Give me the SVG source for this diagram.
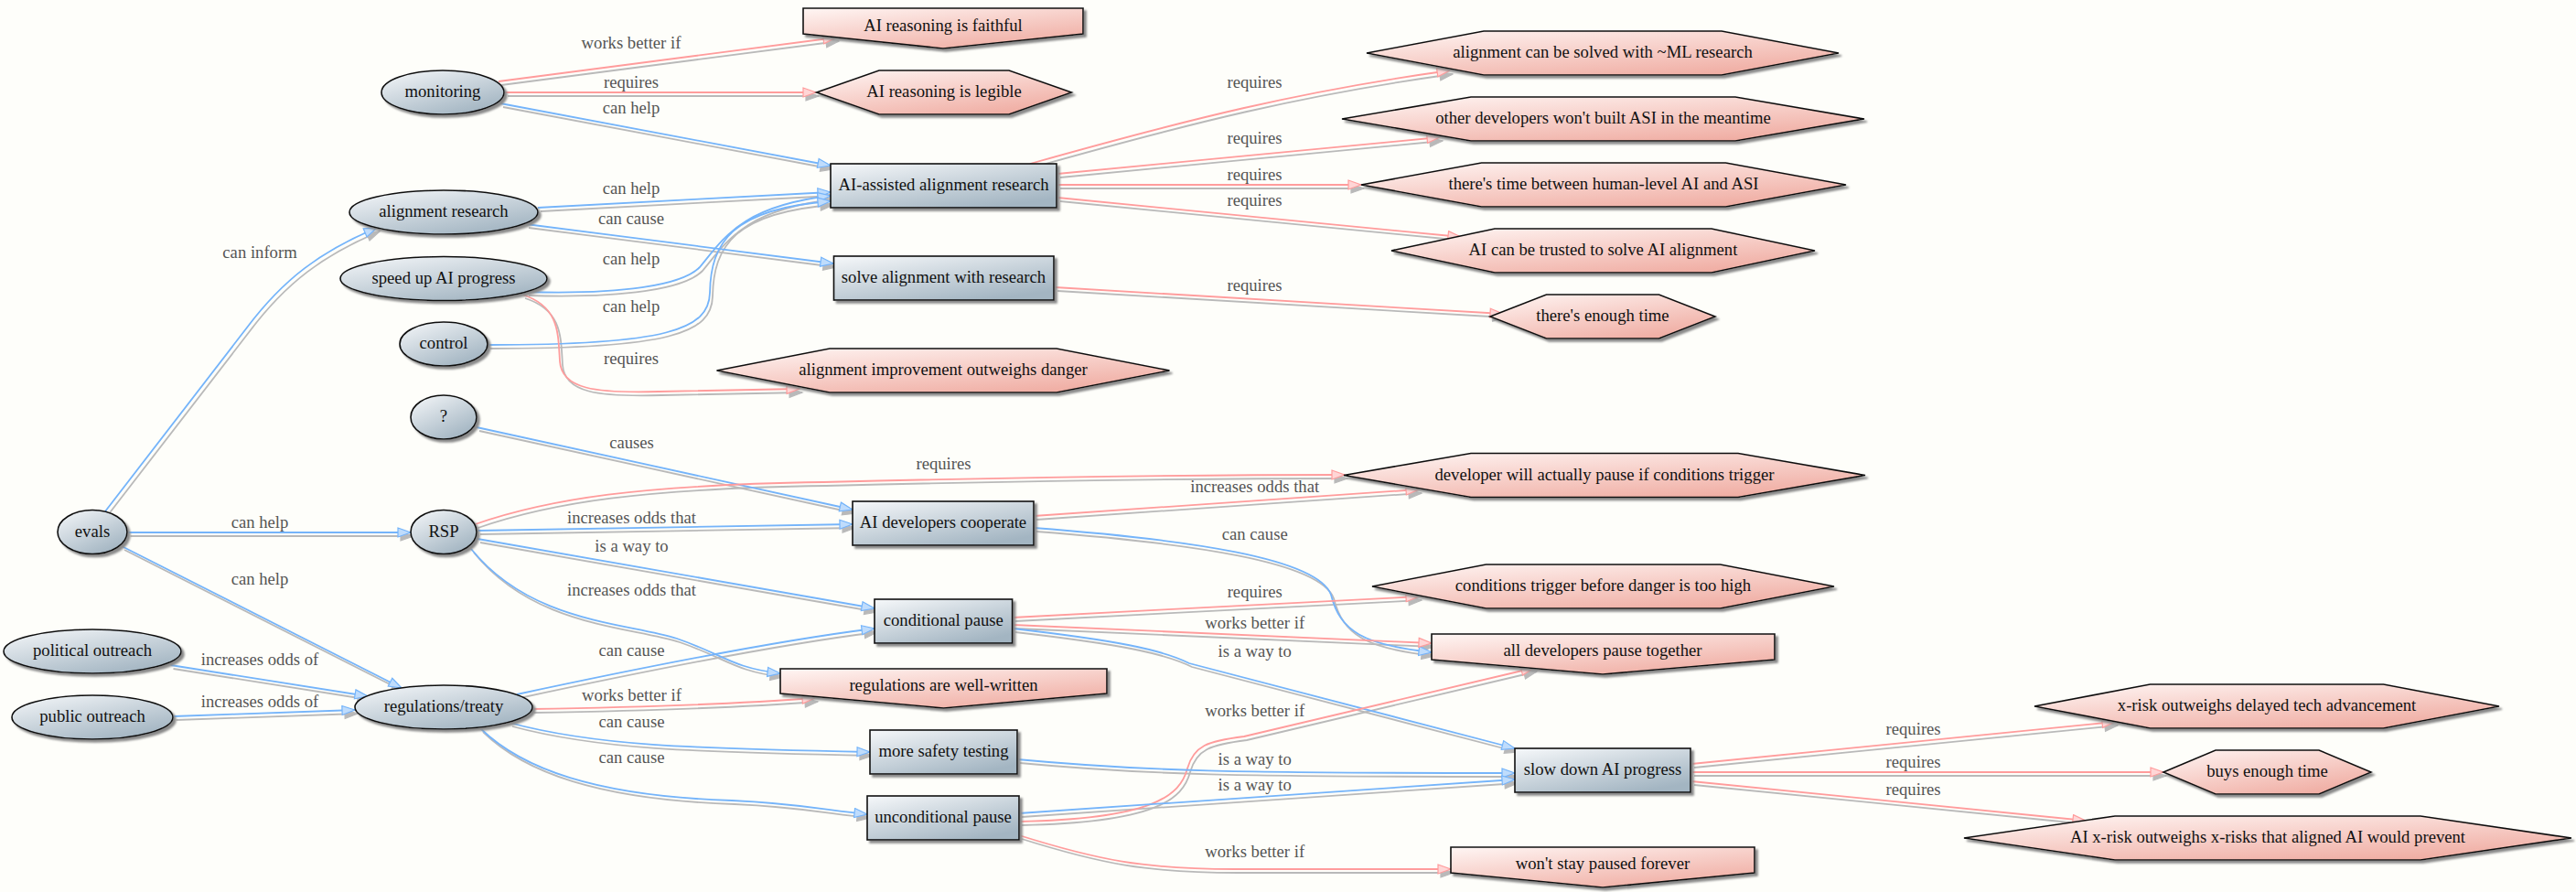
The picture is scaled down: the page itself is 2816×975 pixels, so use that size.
<svg xmlns="http://www.w3.org/2000/svg" width="2816" height="975" viewBox="0 0 2816 975">
<style>
text{font-family:"Liberation Serif","Times New Roman",serif;font-size:18.67px;text-anchor:middle}
.nl{fill:#111}
.el{fill:#555}
.ell{fill:url(#gb);stroke:#111;stroke-width:1.6}
.box{fill:url(#gb);stroke:#111;stroke-width:1.6}
.cond{fill:url(#gp);stroke:#111;stroke-width:1.6}
.sh{filter:url(#ns)}
.b{fill:none;stroke:#74b4fa;stroke-width:1.8;marker-end:url(#ab)}
.p{fill:none;stroke:#ff9c9c;stroke-width:1.8;marker-end:url(#ap)}
</style>
<defs>
<linearGradient id="gb" x1="0" y1="0" x2="0.7" y2="1">
<stop offset="0" stop-color="#f6f8fa"/><stop offset="1" stop-color="#a3b5c2"/>
</linearGradient>
<linearGradient id="gp" x1="0" y1="0" x2="0.7" y2="1">
<stop offset="0" stop-color="#fff6f4"/><stop offset="1" stop-color="#f0aea4"/>
</linearGradient>
<filter id="ns" filterUnits="userSpaceOnUse" x="0" y="0" width="2816" height="975">
<feGaussianBlur in="SourceAlpha" stdDeviation="1" result="b"/>
<feOffset in="b" dx="3" dy="3" result="o"/>
<feFlood flood-color="#8a8a8a"/>
<feComposite in2="o" operator="in" result="s"/>
<feMerge><feMergeNode in="s"/><feMergeNode in="SourceGraphic"/></feMerge>
</filter>
<filter id="es" filterUnits="userSpaceOnUse" x="0" y="0" width="2816" height="975">
<feOffset in="SourceAlpha" dx="3" dy="3.5" result="o"/>
<feFlood flood-color="#b9b9b9"/>
<feComposite in2="o" operator="in" result="s"/>
<feMerge><feMergeNode in="s"/><feMergeNode in="SourceGraphic"/></feMerge>
</filter>
<marker id="ab" markerUnits="userSpaceOnUse" markerWidth="18" markerHeight="14" refX="15" refY="6" orient="auto">
<path d="M1,1 L15,6 L1,11 z" fill="#bfdcfc" stroke="#74b4fa" stroke-width="1.2"/>
</marker>
<marker id="ap" markerUnits="userSpaceOnUse" markerWidth="18" markerHeight="14" refX="15" refY="6" orient="auto">
<path d="M1,1 L15,6 L1,11 z" fill="#ffd6d6" stroke="#ff9c9c" stroke-width="1.2"/>
</marker>
</defs>
<rect width="2816" height="975" fill="#fefefa"/>

<g id="connectors">
<g filter="url(#es)">
<path class="p" d="M545,89 L914,41"/>
<path class="p" d="M552,101 L892,101"/>
<path class="b" d="M547,113 L908,181"/>
<path class="b" d="M588,227 L908,210"/>
<path class="b" d="M575,245 L911,288"/>
<path class="b" d="M575,319 C680,322 745,312 765,292 C790,262 810,225 908,214"/>
<path class="b" d="M533,377 C730,377 775,360 776,320 C777,265 800,228 908,220"/>
<path class="p" d="M571,322 C612,335 610,365 612,395 C614,425 650,430 720,428 L874,425"/>
<path class="b" d="M115,559 L270,358 C310,305 350,275 412,249"/>
<path class="p" d="M1126,179 C1300,130 1420,100 1585,77"/>
<path class="p" d="M1156,190 L1574,150"/>
<path class="p" d="M1156,202 L1488,202"/>
<path class="p" d="M1156,216 L1597,259"/>
<path class="p" d="M1153,314 L1643,343"/>
<path class="b" d="M521,467 L932,557"/>
<path class="b" d="M139.5,582 L449,582"/>
<path class="b" d="M133,597 L439,752"/>
<path class="p" d="M519.5,573 C600,545 700,530 900,527 C1100,522 1300,519 1470,519"/>
<path class="b" d="M522,580 L932,573"/>
<path class="b" d="M522,589 L956,665"/>
<path class="b" d="M515,600 C580,680 680,680 740,698 C790,715 800,730 853,736"/>
<path class="b" d="M186.5,727 L402,761"/>
<path class="b" d="M189.5,783 L388,776"/>
<path class="b" d="M565,759 C700,730 850,700 956,687"/>
<path class="p" d="M581,775 C700,773 800,770 891,763"/>
<path class="b" d="M557,790 C650,815 750,818 951,822"/>
<path class="b" d="M525,796 C570,840 650,870 800,875 C870,878 900,885 948,890"/>
<path class="p" d="M1130,564 L1551,535"/>
<path class="b" d="M1130,577 C1300,590 1440,610 1455,650 C1465,690 1490,705 1565,713"/>
<path class="p" d="M1107,675 L1551,652"/>
<path class="p" d="M1107,683 L1565,703"/>
<path class="b" d="M1107,687 C1220,700 1270,710 1300,725 L1656,818"/>
<path class="p" d="M1114,898 C1260,895 1290,870 1298,840 C1305,815 1320,810 1360,805 L1677,730"/>
<path class="b" d="M1112,830 C1250,843 1350,845 1656,845"/>
<path class="b" d="M1114,889 L1656,852"/>
<path class="p" d="M1114,913 C1200,940 1250,950 1350,950 L1586,950"/>
<path class="p" d="M1849,835 L2312,789"/>
<path class="p" d="M1849,844 L2365,844"/>
<path class="p" d="M1849,854 L2280,897"/>
</g>
<g id="edge-labels">
<text class="el" x="690" y="53">works better if</text>
<text class="el" x="690" y="96">requires</text>
<text class="el" x="690" y="124">can help</text>
<text class="el" x="690" y="212">can help</text>
<text class="el" x="690" y="245">can cause</text>
<text class="el" x="690" y="289">can help</text>
<text class="el" x="690" y="341">can help</text>
<text class="el" x="690" y="398">requires</text>
<text class="el" x="284" y="282">can inform</text>
<text class="el" x="1371.5" y="96">requires</text>
<text class="el" x="1371.5" y="157">requires</text>
<text class="el" x="1371.5" y="197">requires</text>
<text class="el" x="1371.5" y="225">requires</text>
<text class="el" x="1371.5" y="318">requires</text>
<text class="el" x="690.5" y="490">causes</text>
<text class="el" x="284" y="577">can help</text>
<text class="el" x="284" y="639">can help</text>
<text class="el" x="1031.5" y="513">requires</text>
<text class="el" x="690.5" y="572">increases odds that</text>
<text class="el" x="690.5" y="603">is a way to</text>
<text class="el" x="690.5" y="651">increases odds that</text>
<text class="el" x="284" y="727">increases odds of</text>
<text class="el" x="284" y="773">increases odds of</text>
<text class="el" x="690.5" y="717">can cause</text>
<text class="el" x="690.5" y="766">works better if</text>
<text class="el" x="690.5" y="795">can cause</text>
<text class="el" x="690.5" y="834">can cause</text>
<text class="el" x="1371.7" y="538">increases odds that</text>
<text class="el" x="1371.7" y="590">can cause</text>
<text class="el" x="1371.7" y="653">requires</text>
<text class="el" x="1371.7" y="687">works better if</text>
<text class="el" x="1371.7" y="718">is a way to</text>
<text class="el" x="1371.7" y="783">works better if</text>
<text class="el" x="1371.7" y="836">is a way to</text>
<text class="el" x="1371.7" y="864">is a way to</text>
<text class="el" x="1371.7" y="937">works better if</text>
<text class="el" x="2091.6" y="803">requires</text>
<text class="el" x="2091.6" y="839">requires</text>
<text class="el" x="2091.6" y="869">requires</text>
</g>
</g>

<g id="n-monitoring"><ellipse class="ell sh" cx="484" cy="101" rx="67" ry="24"/><text class="nl" x="484" y="106">monitoring</text></g>
<g id="n-alignment-research"><ellipse class="ell sh" cx="485" cy="232" rx="103" ry="24"/><text class="nl" x="485" y="237">alignment research</text></g>
<g id="n-speed-up"><ellipse class="ell sh" cx="485" cy="304.5" rx="113" ry="24"/><text class="nl" x="485" y="310">speed up AI progress</text></g>
<g id="n-control"><ellipse class="ell sh" cx="485" cy="376" rx="48" ry="24"/><text class="nl" x="485" y="381">control</text></g>
<g id="n-q"><ellipse class="ell sh" cx="485" cy="456" rx="36" ry="24"/><text class="nl" x="485" y="461">?</text></g>
<g id="n-evals"><ellipse class="ell sh" cx="101" cy="581.5" rx="38" ry="24"/><text class="nl" x="101" y="587">evals</text></g>
<g id="n-rsp"><ellipse class="ell sh" cx="485" cy="581.5" rx="36" ry="24"/><text class="nl" x="485" y="587">RSP</text></g>
<g id="n-political"><ellipse class="ell sh" cx="101" cy="712" rx="97" ry="24"/><text class="nl" x="101" y="717">political outreach</text></g>
<g id="n-public"><ellipse class="ell sh" cx="101" cy="784" rx="88" ry="24"/><text class="nl" x="101" y="789">public outreach</text></g>
<g id="n-regulations"><ellipse class="ell sh" cx="485" cy="773" rx="97" ry="24"/><text class="nl" x="485" y="778">regulations/treaty</text></g>

<g id="n-ai-assisted"><rect class="box sh" x="908" y="179" width="247" height="48"/><text class="nl" x="1031.5" y="208">AI-assisted alignment research</text></g>
<g id="n-solve"><rect class="box sh" x="911.5" y="280" width="240.5" height="48"/><text class="nl" x="1031.5" y="309">solve alignment with research</text></g>
<g id="n-cooperate"><rect class="box sh" x="932" y="548" width="198" height="48"/><text class="nl" x="1031" y="577">AI developers cooperate</text></g>
<g id="n-conditional"><rect class="box sh" x="956" y="655" width="150.6" height="48"/><text class="nl" x="1031.3" y="684">conditional pause</text></g>
<g id="n-safety"><rect class="box sh" x="951" y="798" width="161" height="48"/><text class="nl" x="1031.5" y="827">more safety testing</text></g>
<g id="n-unconditional"><rect class="box sh" x="948" y="870" width="166" height="48"/><text class="nl" x="1031" y="899">unconditional pause</text></g>
<g id="n-slow"><rect class="box sh" x="1656" y="818" width="192" height="48"/><text class="nl" x="1752" y="847">slow down AI progress</text></g>

<g id="n-faithful"><polygon class="cond sh" points="878,9 1184,9 1184,37 1031,53 878,37"/><text class="nl" x="1031" y="34">AI reasoning is faithful</text></g>
<g id="n-legible"><polygon class="cond sh" points="892.6,101 961,77 1103,77 1171.4,101 1103,125 961,125"/><text class="nl" x="1032" y="106">AI reasoning is legible</text></g>
<g id="n-ml"><polygon class="cond sh" points="1494,58 1622,34 1882,34 2010,58 1882,82 1622,82"/><text class="nl" x="1752" y="63">alignment can be solved with ~ML research</text></g>
<g id="n-other-dev"><polygon class="cond sh" points="1467,130 1608,106 1897,106 2038,130 1897,154 1608,154"/><text class="nl" x="1752.5" y="135">other developers won't built ASI in the meantime</text></g>
<g id="n-time-between"><polygon class="cond sh" points="1488,202 1619.5,178 1886.5,178 2018,202 1886.5,226 1619.5,226"/><text class="nl" x="1753" y="207">there's time between human-level AI and ASI</text></g>
<g id="n-trusted"><polygon class="cond sh" points="1521,274 1634,250 1871,250 1984,274 1871,298 1634,298"/><text class="nl" x="1752.5" y="279">AI can be trusted to solve AI alignment</text></g>
<g id="n-enough-time"><polygon class="cond sh" points="1629,346 1690.5,322 1813.5,322 1875,346 1813.5,370 1690.5,370"/><text class="nl" x="1752" y="351">there's enough time</text></g>
<g id="n-outweighs-danger"><polygon class="cond sh" points="783.5,405 907,381 1155,381 1278.5,405 1155,429 907,429"/><text class="nl" x="1031" y="410">alignment improvement outweighs danger</text></g>
<g id="n-dev-pause"><polygon class="cond sh" points="1469,519.5 1608,495.5 1900,495.5 2039,519.5 1900,543.5 1608,543.5"/><text class="nl" x="1754" y="525">developer will actually pause if conditions trigger</text></g>
<g id="n-conditions"><polygon class="cond sh" points="1500,641 1624.5,617 1880.5,617 2005,641 1880.5,665 1624.5,665"/><text class="nl" x="1752.5" y="646">conditions trigger before danger is too high</text></g>
<g id="n-all-dev"><polygon class="cond sh" points="1565,693 1940,693 1940,721 1752,737 1565,721"/><text class="nl" x="1752" y="717">all developers pause together</text></g>
<g id="n-well-written"><polygon class="cond sh" points="853,731 1210,731 1210,758 1031.5,774 853,758"/><text class="nl" x="1031.5" y="755">regulations are well-written</text></g>
<g id="n-wont-stay"><polygon class="cond sh" points="1586,926 1918,926 1918,954 1752,970 1586,954"/><text class="nl" x="1752" y="950">won't stay paused forever</text></g>
<g id="n-xrisk-delayed"><polygon class="cond sh" points="2224,772 2350.5,748 2605.5,748 2732,772 2605.5,796 2350.5,796"/><text class="nl" x="2478" y="777">x-risk outweighs delayed tech advancement</text></g>
<g id="n-buys"><polygon class="cond sh" points="2365,844 2422,820 2535,820 2592,844 2535,868 2422,868"/><text class="nl" x="2478.5" y="849">buys enough time</text></g>
<g id="n-ai-xrisk"><polygon class="cond sh" points="2147,916 2312,892 2646,892 2811,916 2646,940 2312,940"/><text class="nl" x="2479" y="921">AI x-risk outweighs x-risks that aligned AI would prevent</text></g>
</svg>
